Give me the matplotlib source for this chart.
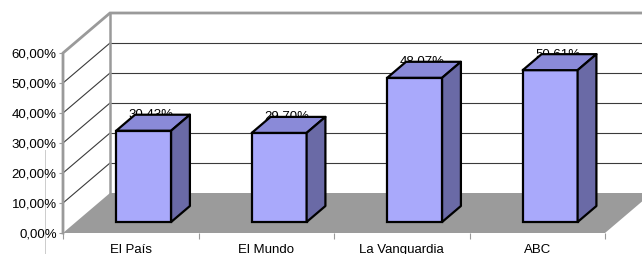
import matplotlib
matplotlib.use("Agg")
import matplotlib.pyplot as plt
from matplotlib.patches import Polygon
from matplotlib.lines import Line2D

plt.rcParams['font.family'] = ['Liberation Sans', 'DejaVu Sans']

# Datos
periodicos = ['El País', 'El Mundo', 'La Vanguardia', 'ABC']
valores = [30.43, 29.70, 48.07, 50.61]
etiquetas = ['30,43%', '29,70%', '48,07%', '50,61%']
ticks_y = [0, 10, 20, 30, 40, 50, 60]
ticks_y_txt = ['0,00%', '10,00%', '20,00%', '30,00%', '40,00%', '50,00%', '60,00%']

# Colores estilo Excel 3D
c_frente = '#a9a9fb'
c_tapa = '#8a8ad8'
c_lado = '#6a6aa6'
c_suelo = '#9b9b9b'
c_marco = '#9a9a9a'
c_rejilla = '#3a3a3a'

fig = plt.figure(figsize=(6.42, 2.54), dpi=100)
ax = fig.add_axes([63 / 642, 21 / 254, 542 / 642, 180 / 254])
ax.set_xlim(0, 4)
ax.set_ylim(0, 60)
for s in ax.spines.values():
    s.set_visible(False)

# profundidad (en unidades de datos)
DX = 47 / 135.5
DY = 40 / 3
n = len(periodicos)

# pared del fondo
ax.add_patch(Polygon([(DX, DY), (n + DX, DY), (n + DX, 60 + DY), (DX, 60 + DY)],
                     closed=True, facecolor='white', edgecolor='none', clip_on=False, zorder=0))
for y in ticks_y[1:-1]:
    ax.plot([DX, n + DX], [y + DY, y + DY], color=c_rejilla, lw=0.8, clip_on=False, zorder=1)
    ax.plot([0, DX], [y, y + DY], color=c_rejilla, lw=0.8, clip_on=False, zorder=1)

# suelo
ax.add_patch(Polygon([(0, 0), (n, 0), (n + DX, DY), (DX, DY)],
                     closed=True, facecolor=c_suelo, edgecolor='none', clip_on=False, zorder=2))

# marco
ax.plot([DX, DX], [DY, 60 + DY], color=c_marco, lw=1.8, clip_on=False, zorder=2)
ax.plot([0, 0, DX, n + DX], [0, 60, 60 + DY, 60 + DY], color=c_marco, lw=2.0,
        clip_on=False, zorder=3, solid_joinstyle='miter')

# barras
ancho = 0.405
f0, f1 = 0.275, 0.675
bdx, bdy = (f1 - f0) * DX, (f1 - f0) * DY
xs = [i + 0.5 - ancho / 2 + f0 * DX for i in range(n)]
ax.bar(xs, valores, width=ancho, bottom=f0 * DY, align='edge', color=c_frente,
       edgecolor='black', linewidth=1.6, clip_on=False, zorder=5)
for i, v in enumerate(valores):
    x0 = xs[i]
    y0 = f0 * DY
    tapa = [(x0, y0 + v), (x0 + ancho, y0 + v), (x0 + ancho + bdx, y0 + v + bdy), (x0 + bdx, y0 + v + bdy)]
    lado = [(x0 + ancho, y0), (x0 + ancho + bdx, y0 + bdy), (x0 + ancho + bdx, y0 + v + bdy), (x0 + ancho, y0 + v)]
    ax.add_patch(Polygon(tapa, closed=True, facecolor=c_tapa, edgecolor='black', lw=1.6,
                         joinstyle='round', clip_on=False, zorder=5))
    ax.add_patch(Polygon(lado, closed=True, facecolor=c_lado, edgecolor='black', lw=1.6,
                         joinstyle='round', clip_on=False, zorder=5))
    ax.text(i + 0.5 + 0.15, v + f1 * DY - 1.0, etiquetas[i], ha='center', va='baseline',
            fontsize=9.5, color='black', zorder=4)

# ejes
ax.set_yticks(ticks_y)
ax.set_yticklabels(ticks_y_txt, fontsize=9.5)
ax.tick_params(axis='y', length=3, width=0.8, color=c_marco, pad=1.5)
ax.set_xticks([i + 0.5 for i in range(n)])
ax.set_xticklabels(periodicos, fontsize=9.5)
ax.set_xticks(range(n + 1), minor=True)
ax.tick_params(axis='x', which='major', length=0, pad=8)
ax.tick_params(axis='x', which='minor', length=4, width=0.8, color=c_marco)

# linea fina a la izquierda (presente en la imagen original)
fig.add_artist(Line2D([45 / 642, 45 / 642], [0, 104 / 254], color='#cccccc', lw=0.7, zorder=0))

fig.savefig('out.png', dpi=100)
